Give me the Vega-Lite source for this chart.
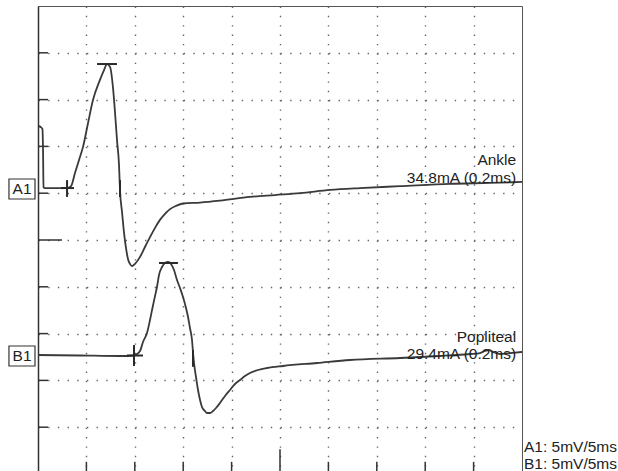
{
  "$schema": "https://vega.github.io/schema/vega-lite/v6.json",
  "width": 484,
  "height": 468,
  "autosize": {"type": "none"},
  "padding": {"left": 38, "top": 6, "right": 96, "bottom": 0},
  "background": "white",
  "config": {
    "view": {"stroke": "#555", "strokeWidth": 1},
    "font": "Liberation Sans"
  },
  "datasets": {
    "trace": [
      {"s": "A1", "t": 0, "v": 7.436},
      {"s": "A1", "t": 0.31, "v": 7.41},
      {"s": "A1", "t": 0.46, "v": 7.37},
      {"s": "A1", "t": 0.52, "v": 6.92},
      {"s": "A1", "t": 0.57, "v": 6.13},
      {"s": "A1", "t": 0.72, "v": 6.11},
      {"s": "A1", "t": 3.0, "v": 6.11},
      {"s": "A1", "t": 3.41, "v": 6.15},
      {"s": "A1", "t": 3.82, "v": 6.43},
      {"s": "A1", "t": 4.24, "v": 6.71},
      {"s": "A1", "t": 4.65, "v": 6.99},
      {"s": "A1", "t": 5.17, "v": 7.5},
      {"s": "A1", "t": 5.68, "v": 7.99},
      {"s": "A1", "t": 6.4, "v": 8.42},
      {"s": "A1", "t": 6.82, "v": 8.63},
      {"s": "A1", "t": 7.13, "v": 8.76},
      {"s": "A1", "t": 7.44, "v": 8.7},
      {"s": "A1", "t": 7.75, "v": 8.25},
      {"s": "A1", "t": 7.95, "v": 7.74},
      {"s": "A1", "t": 8.16, "v": 7.14},
      {"s": "A1", "t": 8.37, "v": 6.6},
      {"s": "A1", "t": 8.47, "v": 6.07},
      {"s": "A1", "t": 8.68, "v": 5.6},
      {"s": "A1", "t": 8.88, "v": 5.17},
      {"s": "A1", "t": 9.09, "v": 4.83},
      {"s": "A1", "t": 9.3, "v": 4.59},
      {"s": "A1", "t": 9.5, "v": 4.49},
      {"s": "A1", "t": 9.71, "v": 4.44},
      {"s": "A1", "t": 10.02, "v": 4.49},
      {"s": "A1", "t": 10.54, "v": 4.64},
      {"s": "A1", "t": 11.05, "v": 4.85},
      {"s": "A1", "t": 11.57, "v": 5.06},
      {"s": "A1", "t": 12.09, "v": 5.26},
      {"s": "A1", "t": 12.6, "v": 5.43},
      {"s": "A1", "t": 13.12, "v": 5.56},
      {"s": "A1", "t": 13.64, "v": 5.66},
      {"s": "A1", "t": 14.26, "v": 5.73},
      {"s": "A1", "t": 14.98, "v": 5.78},
      {"s": "A1", "t": 16.74, "v": 5.8},
      {"s": "A1", "t": 18.8, "v": 5.84},
      {"s": "A1", "t": 21.9, "v": 5.92},
      {"s": "A1", "t": 24.48, "v": 5.96},
      {"s": "A1", "t": 27.07, "v": 6.0},
      {"s": "A1", "t": 30.17, "v": 6.07},
      {"s": "A1", "t": 33.26, "v": 6.11},
      {"s": "A1", "t": 37.4, "v": 6.15},
      {"s": "A1", "t": 42.56, "v": 6.2},
      {"s": "A1", "t": 46.69, "v": 6.22},
      {"s": "A1", "t": 50, "v": 6.24},
      {"s": "B1", "t": 0, "v": 2.543},
      {"s": "B1", "t": 4.34, "v": 2.532},
      {"s": "B1", "t": 8.47, "v": 2.521},
      {"s": "B1", "t": 9.92, "v": 2.532},
      {"s": "B1", "t": 10.23, "v": 2.564},
      {"s": "B1", "t": 10.54, "v": 2.628},
      {"s": "B1", "t": 10.85, "v": 2.821},
      {"s": "B1", "t": 11.26, "v": 3.013},
      {"s": "B1", "t": 11.57, "v": 3.291},
      {"s": "B1", "t": 11.78, "v": 3.504},
      {"s": "B1", "t": 12.09, "v": 3.803},
      {"s": "B1", "t": 12.29, "v": 3.996},
      {"s": "B1", "t": 12.5, "v": 4.252},
      {"s": "B1", "t": 12.81, "v": 4.423},
      {"s": "B1", "t": 13.12, "v": 4.509},
      {"s": "B1", "t": 13.43, "v": 4.53},
      {"s": "B1", "t": 13.74, "v": 4.487},
      {"s": "B1", "t": 14.05, "v": 4.359},
      {"s": "B1", "t": 14.36, "v": 4.145},
      {"s": "B1", "t": 14.67, "v": 3.974},
      {"s": "B1", "t": 14.98, "v": 3.782},
      {"s": "B1", "t": 15.29, "v": 3.547},
      {"s": "B1", "t": 15.5, "v": 3.355},
      {"s": "B1", "t": 15.7, "v": 3.12},
      {"s": "B1", "t": 15.91, "v": 2.863},
      {"s": "B1", "t": 16.01, "v": 2.607},
      {"s": "B1", "t": 16.12, "v": 2.372},
      {"s": "B1", "t": 16.32, "v": 2.073},
      {"s": "B1", "t": 16.53, "v": 1.795},
      {"s": "B1", "t": 16.74, "v": 1.581},
      {"s": "B1", "t": 16.94, "v": 1.432},
      {"s": "B1", "t": 17.25, "v": 1.346},
      {"s": "B1", "t": 17.46, "v": 1.303},
      {"s": "B1", "t": 17.77, "v": 1.303},
      {"s": "B1", "t": 18.08, "v": 1.346},
      {"s": "B1", "t": 18.39, "v": 1.41},
      {"s": "B1", "t": 18.8, "v": 1.517},
      {"s": "B1", "t": 19.32, "v": 1.667},
      {"s": "B1", "t": 19.83, "v": 1.795},
      {"s": "B1", "t": 20.35, "v": 1.923},
      {"s": "B1", "t": 20.87, "v": 2.009},
      {"s": "B1", "t": 21.38, "v": 2.094},
      {"s": "B1", "t": 21.9, "v": 2.158},
      {"s": "B1", "t": 22.73, "v": 2.222},
      {"s": "B1", "t": 23.66, "v": 2.265},
      {"s": "B1", "t": 25.31, "v": 2.308},
      {"s": "B1", "t": 28.82, "v": 2.372},
      {"s": "B1", "t": 32.23, "v": 2.436},
      {"s": "B1", "t": 37.4, "v": 2.479},
      {"s": "B1", "t": 41.53, "v": 2.521},
      {"s": "B1", "t": 44.63, "v": 2.564},
      {"s": "B1", "t": 45.66, "v": 2.585},
      {"s": "B1", "t": 46.18, "v": 2.628},
      {"s": "B1", "t": 46.59, "v": 2.65},
      {"s": "B1", "t": 47.0, "v": 2.607},
      {"s": "B1", "t": 47.73, "v": 2.564},
      {"s": "B1", "t": 48.76, "v": 2.585},
      {"s": "B1", "t": 50, "v": 2.607}
    ],
    "ticks": [
      {"t": 0, "t2": 1.03, "v": 1, "v2": 1},
      {"t": 0, "t2": 1.03, "v": 2, "v2": 2},
      {"t": 0, "t2": 1.03, "v": 3, "v2": 3},
      {"t": 0, "t2": 1.03, "v": 4, "v2": 4},
      {"t": 0, "t2": 2.48, "v": 5, "v2": 5},
      {"t": 0, "t2": 1.03, "v": 6, "v2": 6},
      {"t": 0, "t2": 1.03, "v": 7, "v2": 7},
      {"t": 0, "t2": 1.03, "v": 8, "v2": 8},
      {"t": 0, "t2": 1.03, "v": 9, "v2": 9},
      {"t": 5, "t2": 5, "v": 0, "v2": 0.26},
      {"t": 10, "t2": 10, "v": 0, "v2": 0.26},
      {"t": 15, "t2": 15, "v": 0, "v2": 0.26},
      {"t": 20, "t2": 20, "v": 0, "v2": 0.26},
      {"t": 25, "t2": 25, "v": 0, "v2": 0.53},
      {"t": 30, "t2": 30, "v": 0, "v2": 0.26},
      {"t": 35, "t2": 35, "v": 0, "v2": 0.26},
      {"t": 40, "t2": 40, "v": 0, "v2": 0.26},
      {"t": 45, "t2": 45, "v": 0, "v2": 0.26}
    ],
    "markers": [
      {"t": 3.0, "t2": 3.0, "v": 5.92, "v2": 6.28},
      {"t": 2.38, "t2": 3.72, "v": 6.11, "v2": 6.11},
      {"t": 6.1, "t2": 8.16, "v": 8.76, "v2": 8.76},
      {"t": 8.47, "t2": 8.47, "v": 5.92, "v2": 6.28},
      {"t": 9.92, "t2": 9.92, "v": 2.308, "v2": 2.756},
      {"t": 9.19, "t2": 10.85, "v": 2.532, "v2": 2.532},
      {"t": 12.5, "t2": 14.46, "v": 4.509, "v2": 4.509},
      {"t": 16.01, "t2": 16.01, "v": 2.29, "v2": 2.65}
    ],
    "boxes": [
      {"t": -3.0, "t2": -0.31, "v": 5.876, "v2": 6.303, "label": "A1", "tc": -1.65, "vc": 6.09},
      {"t": -3.0, "t2": -0.31, "v": 2.308, "v2": 2.735, "label": "B1", "tc": -1.65, "vc": 2.52}
    ],
    "rightText": [
      {"t": 49.4, "v": 6.6, "label": "Ankle"},
      {"t": 49.4, "v": 6.22, "label": "34.8mA (0.2ms)"},
      {"t": 49.4, "v": 2.83, "label": "Popliteal"},
      {"t": 49.4, "v": 2.46, "label": "29.4mA (0.2ms)"}
    ],
    "scaleText": [
      {"t": 50.2, "v": 0.48, "label": "A1: 5mV/5ms"},
      {"t": 50.2, "v": 0.11, "label": "B1: 5mV/5ms"}
    ]
  },
  "layer": [
    {
      "data": {"name": "ticks"},
      "mark": {"type": "rule", "color": "#333", "strokeWidth": 1.5},
      "encoding": {
        "x": {
          "field": "t", "type": "quantitative",
          "scale": {"domain": [0, 50], "nice": false, "zero": false},
          "axis": {"values": [5, 10, 15, 20, 25, 30, 35, 40, 45], "grid": true, "gridDash": [1.4, 7.96], "gridColor": "#666", "gridWidth": 1.4, "labels": false, "ticks": false, "domain": false, "title": null}
        },
        "x2": {"field": "t2"},
        "y": {
          "field": "v", "type": "quantitative",
          "scale": {"domain": [0, 10], "nice": false, "zero": false},
          "axis": {"values": [1, 2, 3, 4, 5, 6, 7, 8, 9], "grid": true, "gridDash": [1.4, 8.28], "gridColor": "#666", "gridWidth": 1.4, "labels": false, "ticks": false, "domain": true, "domainColor": "#333", "domainWidth": 1.5, "title": null}
        },
        "y2": {"field": "v2"}
      }
    },
    {
      "data": {"name": "trace"},
      "mark": {"type": "line", "color": "#3a3a3a", "strokeWidth": 1.8, "interpolate": "monotone"},
      "encoding": {
        "x": {"field": "t", "type": "quantitative"},
        "y": {"field": "v", "type": "quantitative"},
        "detail": {"field": "s"}
      }
    },
    {
      "data": {"name": "markers"},
      "mark": {"type": "rule", "color": "#2a2a2a", "strokeWidth": 2},
      "encoding": {
        "x": {"field": "t", "type": "quantitative"},
        "x2": {"field": "t2"},
        "y": {"field": "v", "type": "quantitative"},
        "y2": {"field": "v2"}
      }
    },
    {
      "data": {"name": "boxes"},
      "mark": {"type": "rect", "fill": "white", "stroke": "#333", "strokeWidth": 1.2},
      "encoding": {
        "x": {"field": "t", "type": "quantitative"},
        "x2": {"field": "t2"},
        "y": {"field": "v", "type": "quantitative"},
        "y2": {"field": "v2"}
      }
    },
    {
      "data": {"name": "boxes"},
      "mark": {"type": "text", "align": "center", "baseline": "middle", "fontSize": 15.5, "color": "#222"},
      "encoding": {
        "x": {"field": "tc", "type": "quantitative"},
        "y": {"field": "vc", "type": "quantitative"},
        "text": {"field": "label"}
      }
    },
    {
      "data": {"name": "rightText"},
      "mark": {"type": "text", "align": "right", "baseline": "alphabetic", "fontSize": 15.5, "color": "#222"},
      "encoding": {
        "x": {"field": "t", "type": "quantitative"},
        "y": {"field": "v", "type": "quantitative"},
        "text": {"field": "label"}
      }
    },
    {
      "data": {"name": "scaleText"},
      "mark": {"type": "text", "align": "left", "baseline": "alphabetic", "fontSize": 15.5, "color": "#222"},
      "encoding": {
        "x": {"field": "t", "type": "quantitative"},
        "y": {"field": "v", "type": "quantitative"},
        "text": {"field": "label"}
      }
    }
  ]
}
